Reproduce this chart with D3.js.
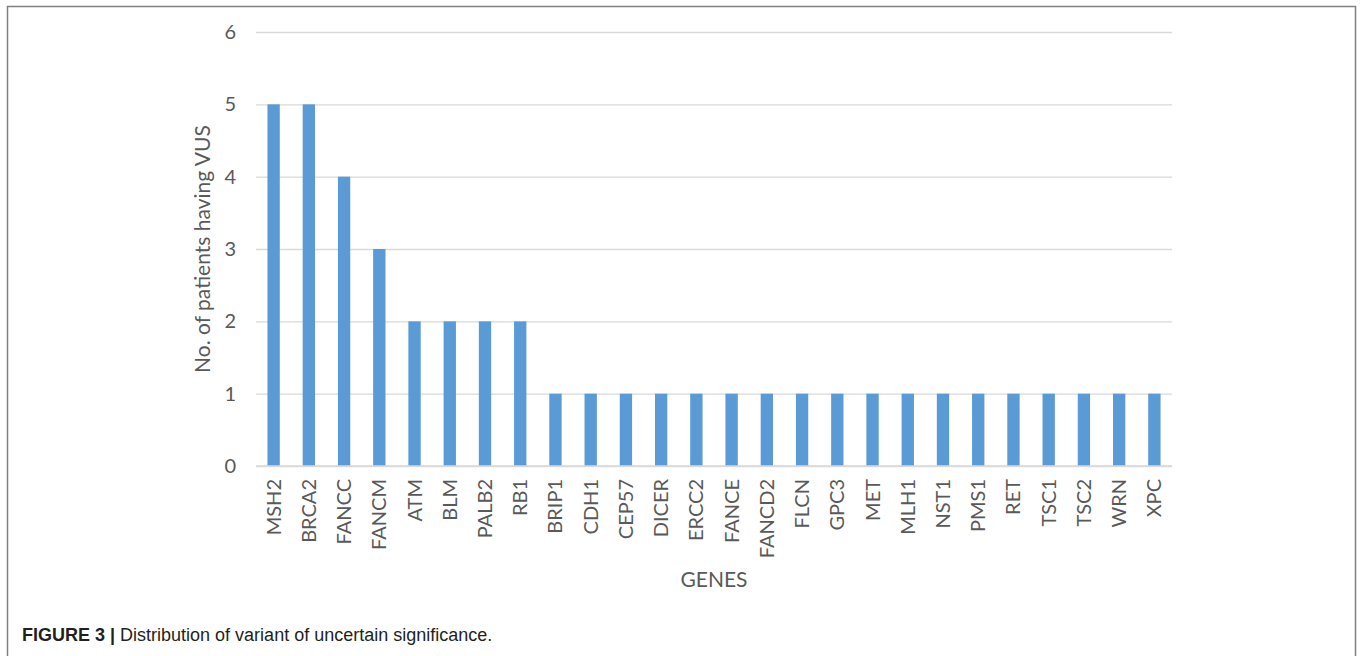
<!DOCTYPE html>
<html>
<head>
<meta charset="utf-8">
<script src="https://cdn.jsdelivr.net/npm/d3@7"></script>
<style>
  html, body { margin: 0; padding: 0; background: #fff; }
  svg { display: block; }
</style>
</head>
<body>
<svg id="chart" width="1360" height="656"></svg>
<script>
// Genes with a variant of uncertain significance, and patient counts per gene
const genes = ["MSH2", "BRCA2", "FANCC", "FANCM", "ATM", "BLM", "PALB2", "RB1",
  "BRIP1", "CDH1", "CEP57", "DICER", "ERCC2", "FANCE", "FANCD2", "FLCN", "GPC3",
  "MET", "MLH1", "NST1", "PMS1", "RET", "TSC1", "TSC2", "WRN", "XPC"];
const patients = [5, 5, 4, 3, 2, 2, 2, 2, 1, 1, 1, 1, 1, 1, 1, 1, 1, 1, 1, 1, 1, 1, 1, 1, 1, 1];
const yTicks = [0, 1, 2, 3, 4, 5, 6];

const svg = d3.select("#chart");
const font = "Lato, 'Open Sans', sans-serif";
const textColor = "#595959";

// Figure frame
svg.append("path")
  .attr("d", "M7.5,656 V6.5 H1355.5 V656")
  .attr("fill", "none")
  .attr("stroke", "#808080")
  .attr("stroke-width", 1.5);

const plot = { left: 256, right: 1172, top: 32, bottom: 466 };

const x = d3.scaleBand()
  .domain(genes)
  .range([plot.left, plot.right])
  .paddingInner(0.65)
  .paddingOuter(0.325);

const y = d3.scaleLinear()
  .domain([0, 6])
  .range([plot.bottom, plot.top]);

// Horizontal gridlines and y tick labels
const yAxis = d3.axisLeft(y)
  .tickValues(yTicks)
  .tickSize(-(plot.right - plot.left))
  .tickPadding(20)
  .tickFormat(d3.format("d"));

const gy = svg.append("g")
  .attr("transform", `translate(${plot.left},0)`)
  .call(yAxis);
gy.select(".domain").remove();
gy.selectAll(".tick line")
  .attr("stroke", "#d9d9d9")
  .attr("stroke-width", 1.3);
gy.selectAll(".tick text")
  .attr("fill", textColor)
  .style("font-family", font)
  .style("font-size", "20px");

// Bars
svg.append("g")
  .selectAll("rect")
  .data(genes.map((g, i) => ({ gene: g, value: patients[i] })))
  .join("rect")
  .attr("x", d => x(d.gene))
  .attr("y", d => y(d.value))
  .attr("width", x.bandwidth())
  .attr("height", d => y(0) - y(d.value))
  .attr("fill", "#5b9bd5");

// Baseline
svg.append("line")
  .attr("x1", plot.left).attr("x2", plot.right)
  .attr("y1", y(0)).attr("y2", y(0))
  .attr("stroke", "#d9d9d9")
  .attr("stroke-width", 1.3);

// Category labels, rotated
const xAxis = d3.axisBottom(x).tickSize(0).tickPadding(0);
const gx = svg.append("g")
  .attr("transform", `translate(0,${plot.bottom})`)
  .call(xAxis);
gx.select(".domain").remove();
gx.selectAll(".tick text")
  .attr("fill", textColor)
  .style("font-family", font)
  .style("font-size", "20px")
  .attr("text-anchor", "end")
  .attr("dy", "0.35em")
  .attr("transform", "translate(0,13) rotate(-90)");

// Axis titles
svg.append("text")
  .attr("transform", `translate(210,${(plot.top + plot.bottom) / 2}) rotate(-90)`)
  .attr("text-anchor", "middle")
  .attr("fill", textColor)
  .style("font-family", font)
  .style("font-size", "21px")
  .text("No. of patients having VUS");

svg.append("text")
  .attr("x", (plot.left + plot.right) / 2)
  .attr("y", 587)
  .attr("text-anchor", "middle")
  .attr("fill", textColor)
  .style("font-family", font)
  .style("font-size", "21px")
  .text("GENES");

// Caption
const cap = svg.append("text")
  .attr("x", 22)
  .attr("y", 641)
  .attr("fill", "#231f20")
  .style("font-family", "'Liberation Sans', Arial, sans-serif")
  .style("font-size", "18px");
cap.append("tspan").style("font-weight", "bold").text("FIGURE 3 | ");
cap.append("tspan").text("Distribution of variant of uncertain significance.");
</script>
</body>
</html>
